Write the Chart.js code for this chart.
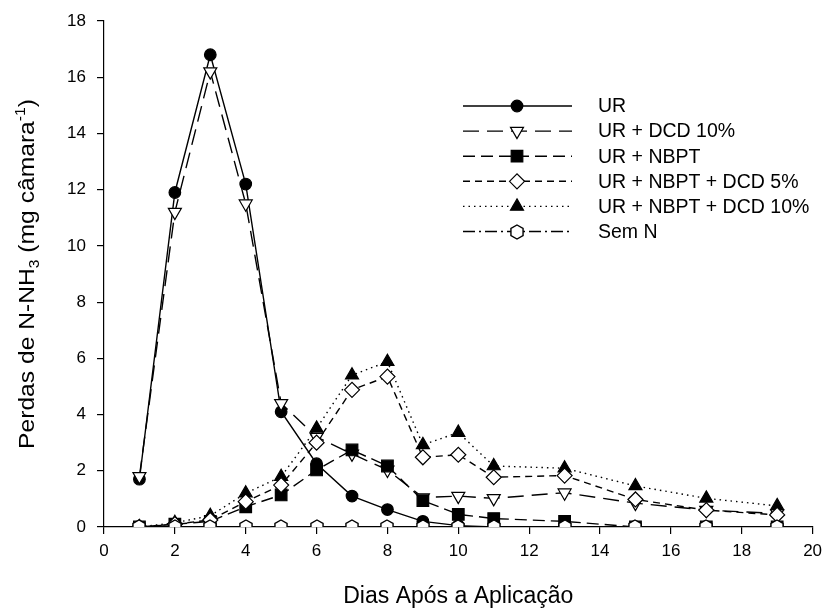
<!DOCTYPE html>
<html lang="pt">
<head>
    <meta charset="UTF-8">
    <title>Perdas de N-NH3</title>
    <script src="https://cdn.jsdelivr.net/npm/chart.js"></script>
    <style>
        body {
            margin: 0;
            background-color: #ffffff;
        }
        #grafico {
            display: block;
        }
    </style>
</head>
<body>
    <canvas id="grafico" width="822" height="611"></canvas>
    <script>
        // Dados
        const dias = [1, 2, 3, 4, 5, 6, 7, 8, 9, 10, 11, 13, 15, 17, 19];
        const ur = [1.7, 11.9, 16.8, 12.2, 4.1, 2.25, 1.1, 0.62, 0.2, 0.05, 0, 0, 0, 0, 0];
        const urDcd10 = [1.8, 11.2, 16.2, 11.5, 4.4, 3.2, 2.6, 2.03, 1.05, 1.1, 1.02, 1.22, 0.85, 0.6, 0.48];
        const urNbpt = [0, 0.1, 0.2, 0.72, 1.14, 2.03, 2.74, 2.17, 0.94, 0.45, 0.3, 0.2, 0, 0, 0];
        const urNbptDcd5 = [0, 0.1, 0.25, 0.9, 1.49, 3.0, 4.88, 5.35, 2.48, 2.57, 1.77, 1.83, 0.98, 0.6, 0.43];
        const urNbptDcd10 = [0, 0.15, 0.4, 1.2, 1.79, 3.51, 5.4, 5.88, 2.92, 3.36, 2.17, 2.09, 1.46, 1.02, 0.75];
        const semN = [0, 0, 0, 0, 0, 0, 0, 0, 0, 0, 0, 0, 0, 0, 0];
        const rotulos = ['UR', 'UR + DCD 10%', 'UR + NBPT', 'UR + NBPT + DCD 5%', 'UR + NBPT + DCD 10%', 'Sem N'];

        const fonte = "'Liberation Sans', Arial, sans-serif";

        // marcador hexagonal (não existe no Chart.js)
        function hexagono(r) {
            const c = document.createElement('canvas');
            const s = 2 * Math.ceil(r + 2);
            c.width = s;
            c.height = s;
            const g = c.getContext('2d');
            g.beginPath();
            for (let i = 0; i < 6; i++) {
                const a = Math.PI / 3 * i;
                const px = s / 2 + r * Math.sin(a);
                const py = s / 2 - r * Math.cos(a);
                if (i === 0) g.moveTo(px, py); else g.lineTo(px, py);
            }
            g.closePath();
            g.fillStyle = '#ffffff';
            g.fill();
            g.lineWidth = 1.4;
            g.strokeStyle = '#000000';
            g.stroke();
            return c;
        }

        function serie(label, valores, estilo) {
            return Object.assign({
                label: label,
                data: dias.map((d, i) => ({ x: d, y: valores[i] })),
                borderColor: '#000000',
                borderWidth: 1.4,
                pointBorderColor: '#000000',
                pointBorderWidth: 1.2,
                pointHoverRadius: 0,
                tension: 0,
                fill: false
            }, estilo);
        }

        const datasets = [
            serie(rotulos[0], ur, { pointStyle: 'circle', pointRadius: 5.8, pointBackgroundColor: '#000000', borderDash: [], order: 5 }),
            serie(rotulos[1], urDcd10, { pointStyle: 'triangle', pointRotation: 180, pointRadius: 7.5, pointBackgroundColor: '#ffffff', borderDash: [16, 8], order: 4 }),
            serie(rotulos[2], urNbpt, { pointStyle: 'rect', pointRadius: 8.2, pointBackgroundColor: '#000000', borderDash: [12, 6], order: 3 }),
            serie(rotulos[3], urNbptDcd5, { pointStyle: 'rectRot', pointRadius: 7.5, pointBackgroundColor: '#ffffff', borderDash: [7, 5], order: 1 }),
            serie(rotulos[4], urNbptDcd10, { pointStyle: 'triangle', pointRadius: 7.5, pointBackgroundColor: '#000000', borderDash: [1.5, 4], order: 2 }),
            serie(rotulos[5], semN, { pointStyle: hexagono(7), pointRadius: 7, pointBackgroundColor: '#ffffff', borderDash: [12, 4, 2, 4], order: 0 })
        ];

        function marcador(ctx, ds, x, y) {
            ctx.save();
            ctx.setLineDash([]);
            ctx.fillStyle = ds.pointBackgroundColor;
            ctx.strokeStyle = '#000000';
            ctx.lineWidth = ds.pointBorderWidth;
            Chart.helpers.drawPoint(ctx, {
                pointStyle: ds.pointStyle,
                rotation: ds.pointRotation || 0,
                radius: ds.pointRadius,
                borderWidth: ds.pointBorderWidth
            }, x, y);
            ctx.restore();
        }

        // hexágonos nítidos (sem suavização da imagem)
        const nitido = {
            id: 'nitido',
            beforeDatasetsDraw(chart) {
                chart.ctx.imageSmoothingEnabled = false;
            }
        };

        // legenda desenhada dentro da área do gráfico
        const legenda = {
            id: 'legenda',
            afterDraw(chart) {
                const ctx = chart.ctx;
                const x1 = 463, x2 = 572, xm = 517, xt = 598;
                chart.data.datasets.forEach((ds, i) => {
                    const y = 106 + i * 25.1;
                    ctx.save();
                    ctx.strokeStyle = '#000000';
                    ctx.lineWidth = ds.borderWidth;
                    ctx.setLineDash(ds.borderDash);
                    ctx.beginPath();
                    ctx.moveTo(x1, y);
                    ctx.lineTo(x2, y);
                    ctx.stroke();
                    ctx.restore();
                    marcador(ctx, ds, xm, y);
                    ctx.save();
                    ctx.fillStyle = '#000000';
                    ctx.font = '19.5px ' + fonte;
                    ctx.textBaseline = 'middle';
                    ctx.textAlign = 'left';
                    ctx.fillText(ds.label, xt, y + 1);
                    ctx.restore();
                });
            }
        };

        // título do eixo y com subscrito e sobrescrito
        const tituloY = {
            id: 'tituloY',
            afterDraw(chart) {
                const ctx = chart.ctx;
                const partes = [
                    { t: 'Perdas de N-NH', s: 22, dy: 0 },
                    { t: '3', s: 14, dy: 5 },
                    { t: ' (mg câmara', s: 22, dy: 0 },
                    { t: '-1', s: 14, dy: -9 },
                    { t: ')', s: 22, dy: 0 }
                ];
                ctx.save();
                let total = 0;
                partes.forEach(p => {
                    ctx.font = p.s + 'px ' + fonte;
                    p.w = ctx.measureText(p.t).width;
                    total += p.w;
                });
                const estica = 1.12;
                ctx.translate(34, 274);
                ctx.rotate(-Math.PI / 2);
                ctx.scale(estica, 1);
                ctx.fillStyle = '#000000';
                ctx.textBaseline = 'alphabetic';
                ctx.textAlign = 'left';
                let u = -total / 2;
                partes.forEach(p => {
                    ctx.font = p.s + 'px ' + fonte;
                    ctx.fillText(p.t, u, p.dy);
                    u += p.w;
                });
                ctx.restore();
            }
        };

        const ctx = document.getElementById('grafico').getContext('2d');
        new Chart(ctx, {
            type: 'line',
            data: { datasets: datasets },
            options: {
                responsive: false,
                animation: false,
                layout: { padding: { top: 21, right: 7, left: 0, bottom: 0 } },
                plugins: {
                    legend: { display: false },
                    tooltip: { enabled: false }
                },
                scales: {
                    x: {
                        type: 'linear',
                        min: 0,
                        max: 20,
                        ticks: { stepSize: 2, color: '#000000', font: { size: 17, family: fonte }, padding: 7, maxRotation: 0 },
                        grid: { drawOnChartArea: false, drawTicks: true, tickLength: 7, color: '#000000', lineWidth: 1.2 },
                        border: { color: '#000000', width: 1.2 },
                        title: { display: true, text: 'Dias Após a Aplicação', color: '#000000', font: { size: 23, family: fonte }, padding: { top: 0, bottom: 1 } },
                        afterFit: s => { s.height = 84; s.paddingLeft = 0; s.paddingRight = 0; }
                    },
                    y: {
                        min: 0,
                        max: 18,
                        ticks: { stepSize: 2, color: '#000000', font: { size: 17, family: fonte }, padding: 11 },
                        grid: { drawOnChartArea: false, drawTicks: true, tickLength: 7, color: '#000000', lineWidth: 1.2 },
                        border: { color: '#000000', width: 1.2 },
                        afterFit: s => { s.width = 104; s.paddingTop = 0; s.paddingBottom = 0; }
                    }
                }
            },
            plugins: [nitido, legenda, tituloY]
        });
    </script>
</body>
</html>
